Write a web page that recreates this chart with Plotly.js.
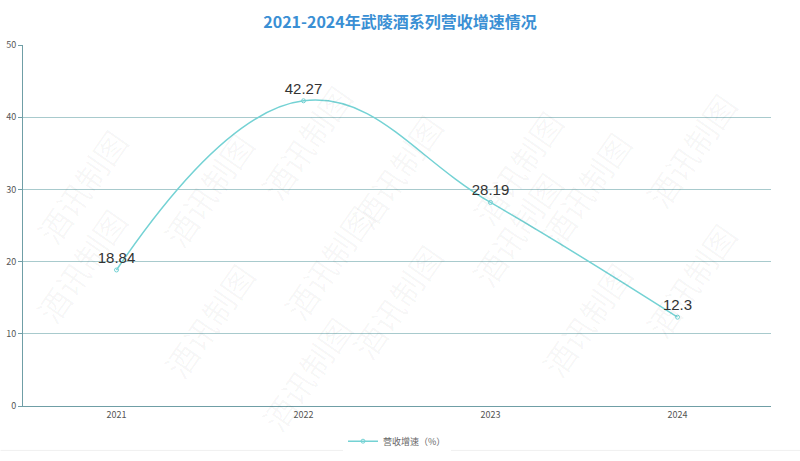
<!DOCTYPE html>
<html>
<head>
<meta charset="utf-8">
<script src="https://cdn.plot.ly/plotly-3.0.1.min.js"></script>
<style>html,body{margin:0;padding:0;background:#fff;}#chart{width:800px;height:461px;}</style>
</head>
<body>
<div id="chart"></div>
<script>
const years = ['2021', '2022', '2023', '2024'];
const growth = [18.84, 42.27, 28.19, 12.3];
const seriesName = '营收增速（%）';
const titleText = '2021-2024年武陵酒系列营收增速情况';
const yTicks = [0, 10, 20, 30, 40, 50];

const font = '"Noto Sans CJK SC", "Noto Sans", sans-serif';
const numFont = '"Liberation Sans", Arial, sans-serif';

const trace = {
  x: years,
  y: growth,
  type: 'scatter',
  mode: 'lines+markers+text',
  name: seriesName,
  line: {color: '#74d2d4', width: 1.5, shape: 'spline', smoothing: 1.2},
  marker: {symbol: 'circle-open', size: 4, color: '#74d2d4', line: {width: 1}},
  text: growth.map(v => String(v)),
  textposition: 'top center',
  textfont: {size: 15, color: '#333', family: numFont},
  cliponaxis: false
};

const marks = [];
const wmPos = [[0.0,0.8],[0.0,0.2],[0.3,0.92],[0.33,0.4],[0.3,-0.1],[0.66,0.85],[0.66,0.3],[0.97,0.9],[0.97,0.35],[0.17,0.6],[0.5,0.65],[0.83,0.6],[0.17,0.05],[0.5,0.1],[0.83,0.05]];
wmPos.forEach(p => marks.push({
  xref: 'paper', yref: 'paper', x: p[0], y: p[1], text: '酒讯制图', showarrow: false,
  textangle: -55, font: {size: 32, color: 'rgba(0,0,0,0.035)', family: font}
}));

const layout = {
  width: 800, height: 461,
  margin: {l: 23, r: 29, t: 45, b: 55},
  paper_bgcolor: '#fff', plot_bgcolor: '#fff',
  title: {text: titleText, x: 0.5, xanchor: 'center', y: 0.952, yanchor: 'middle',
          font: {size: 16, color: '#3a8fd4', family: font, weight: 'bold'}},
  xaxis: {
    type: 'category', range: [-0.5, 3.5], showgrid: false,
    showline: true, linecolor: '#6f9ea6', linewidth: 1,
    ticks: '', tickfont: {size: 9, color: '#555', family: font}, fixedrange: true
  },
  yaxis: {
    range: [0, 50], tickvals: yTicks, showgrid: true, gridcolor: '#a8cacd', gridwidth: 1.2,
    showline: true, linecolor: '#6f9ea6', linewidth: 1, zeroline: false,
    ticks: 'outside', ticklen: 4, tickcolor: '#6f9ea6',
    tickfont: {size: 9, color: '#555', family: font}, fixedrange: true
  },
  showlegend: true,
  legend: {orientation: 'h', x: 0.5, xanchor: 'center', xref: 'paper',
           y: 0.043, yanchor: 'middle', yref: 'container',
           font: {size: 9, color: '#666', family: font}},
  annotations: marks,
  shapes: [{type: 'line', xref: 'paper', yref: 'paper', x0: -0.03, x1: 1.04, y0: -0.123, y1: -0.123,
            line: {color: '#f0f0f0', width: 1}}]
};

Plotly.newPlot('chart', [trace], layout, {displayModeBar: false, staticPlot: true});
</script>
</body>
</html>
